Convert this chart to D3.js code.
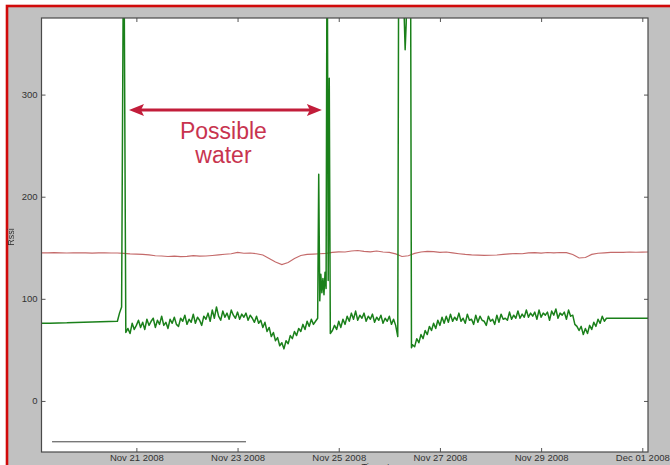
<!DOCTYPE html>
<html>
<head>
<meta charset="utf-8">
<script src="https://cdn.jsdelivr.net/npm/d3@7"></script>
<style>
  body { margin: 0; background: #fff; }
  svg { display: block; filter: blur(0.4px); }
  .axis text { font-family: "Liberation Sans", Arial, sans-serif; font-size: 9.5px; fill: #333; }
  .axis line { stroke: #555; }
</style>
</head>
<body>
<div id="viz"></div>
<script>
// size of the page and of the axes box
var width = 670;
var height = 465;
margin = ({top: 18, right: 22, bottom: 13, left: 41.5});

// all times are hours after Nov 19 2008 00:00
var baseDate = new Date(2008, 10, 19);
var firstHour = 3;
var lastHour = 290.7;

// x tick labels (dates) and y tick values
var xTickDays = ["2008-11-21", "2008-11-23", "2008-11-25", "2008-11-27", "2008-11-29", "2008-12-01"];
var yTicks = [0, 100, 200, 300];
var yMin = -50;
var yMax = 375;

// red series: one reading every 3 hours from hour 3
var redStart = 3;
var redStep = 3;
var redValues = [
  145, 145, 145.2, 145, 144.9, 145, 145.1, 145, 144.8, 145, 145, 144.9, 144.8,
  144.5, 144, 143.8, 143.5, 143, 142.2, 142, 141.5, 141.8, 141.3,
  141.6, 142.3, 141.8, 141.9, 142.5, 143, 143.6, 144.2, 145.5, 144.6,
  144.8, 144.2, 143, 139.5, 136, 133.5, 135.5, 139.5, 142.5, 143.5,
  143.8, 144.2, 144.5, 145.5, 146, 145.8, 146.8, 147.3, 146.5, 146,
  146.8, 145.8, 145.5, 144, 141.5, 142.2, 144.5, 145.8, 146.5, 146.2,
  145.5, 145.8, 145, 144.2, 143.5, 143, 142.8, 142.5, 142.7, 142.9,
  143.5, 144, 144.4, 144.2, 145, 145.2, 144.8, 145.3, 145, 145.4,
  145.2, 143.5, 140, 140.5, 143.5, 144.6, 145, 145.5, 145.6, 145.5,
  145.8, 145.6, 145.7, 145.8
];

// green series, in pieces with their own sampling step
var greenLead = [76, 76.2, 76.4, 76.5, 76.8, 77, 77.2, 77.5, 77.8, 78];          // from hour 3, every 4 h
var greenMain1 = [                                                                  // from hour 40, every 1 h
  86, 92, 500, 67,
  71, 66, 76, 70, 74, 79, 72, 77, 70, 80, 74, 78, 81, 72, 79, 75, 83, 74, 77, 71,
  80, 76, 82, 75, 73, 81, 78, 84, 75, 80, 77, 85, 76, 82, 79, 74, 83, 80, 86, 78,
  89, 81, 92, 83, 79, 88, 82, 86, 80, 89, 84, 81, 87, 80, 85, 82,
  86, 79, 84, 81, 77, 83, 76, 79, 72, 77, 68, 72, 63, 67, 59, 62, 54, 57, 51, 59,
  56, 64, 61, 68, 64, 71, 68, 75, 70, 78, 73, 80, 75, 78, 81
];
var greenSpike1 = [222, 98, 124, 106, 120, 104, 126, 110, 500, 118, 316, 66];       // from hour 134.5, every 0.5 h
var greenMain2 = [                                                                  // from hour 141, every 1 h
  69, 74, 70, 78, 72, 80, 75, 83, 78, 86, 80, 88, 79, 84, 81, 86, 78, 83, 80, 85,
  77, 82, 79, 84, 76, 81, 78, 83, 75, 80, 74, 63
];
var greenSpike2 = [500, 520, 480, 470, 420, 380, 344, 370, 450, 500, 520, 500, 52]; // from hour 172.5, every 0.5 h
var greenMain3 = [                                                                  // from hour 179, every 1 h
  55, 53, 61, 57, 65, 61, 69, 65, 73, 69, 76, 71, 79, 74, 82, 76, 83, 77, 85, 78,
  82, 79, 86, 78, 81, 76, 85, 79, 80, 75, 84, 77, 83, 79, 78, 74, 83, 78, 80, 75,
  84, 77, 85, 80, 81, 79, 87, 80, 84, 81, 88, 81, 85, 82, 89, 82, 86, 83, 87, 80,
  89, 82, 86, 84, 87, 79, 88, 84, 90, 81, 86, 84, 87, 80, 89, 83, 84, 75, 73, 69,
  73, 65, 71, 66, 74, 70, 77, 73, 80, 76, 83, 78
];
var greenTail = [81, 81];                                                           // from hour 271, every 20 h

var greenPieces = [
  {start: 3, step: 4, values: greenLead},
  {start: 40, step: 1, values: greenMain1},
  {start: 134.5, step: 0.5, values: greenSpike1},
  {start: 141, step: 1, values: greenMain2},
  {start: 172.5, step: 0.5, values: greenSpike2},
  {start: 179, step: 1, values: greenMain3},
  {start: 271, step: 20, values: greenTail}
];

// black line near the bottom
var blackHours = [8, 100];
var blackValues = [-40, -40];

// annotation: arrow between two hours at one value
var arrowHours = [44.5, 136];
var arrowValue = 285;
var noteLines = ["Possible", "water"];

function hourToDate(h)
{
  return new Date(baseDate.getTime() + h * 3600 * 1000);
}

// turns a piece into {date, value} points
function piecePoints(start, step, values)
{
  return values.map(function(v, i) {
    return {date: hourToDate(start + i * step), value: v};
  });
}

var redData = piecePoints(redStart, redStep, redValues);
var greenData = [];
greenPieces.forEach(function(p) {
  greenData = greenData.concat(piecePoints(p.start, p.step, p.values));
});
var blackData = blackHours.map(function(h, i) {
  return {date: hourToDate(h), value: blackValues[i]};
});

const svg = d3.select("#viz")
              .append("svg")
              .attr("width", width)
              .attr("height", height);

// white page, red frame, grey figure
svg.append("rect")
   .attr("x", 7)
   .attr("y", 6)
   .attr("width", width + 20)
   .attr("height", height + 20)
   .attr("fill", "#c1c1c1")
   .attr("stroke", "#d10a0a")
   .attr("stroke-width", 2.6);

var x = d3.scaleTime()
          .domain([hourToDate(firstHour), hourToDate(lastHour)])
          .range([margin.left, width - margin.right]);

var y = d3.scaleLinear()
          .domain([yMin, yMax])
          .range([height - margin.bottom, margin.top]);

var plotW = width - margin.right - margin.left;
var plotH = height - margin.bottom - margin.top;

svg.append("rect")
   .attr("x", margin.left)
   .attr("y", margin.top)
   .attr("width", plotW)
   .attr("height", plotH)
   .attr("fill", "#fff");

svg.append("clipPath")
   .attr("id", "plotClip")
   .append("rect")
   .attr("x", margin.left)
   .attr("y", margin.top)
   .attr("width", plotW)
   .attr("height", plotH);

var line = d3.line()
             .x(function(d) { return x(d.date); })
             .y(function(d) { return y(d.value); });

var lines = svg.append("g").attr("clip-path", "url(#plotClip)");

lines.append("path")
     .datum(redData)
     .attr("fill", "none")
     .attr("stroke", "#c46a6a")
     .attr("stroke-width", 1.1)
     .attr("d", line);

lines.append("path")
     .datum(greenData)
     .attr("fill", "none")
     .attr("stroke", "#1a801a")
     .attr("stroke-width", 1.5)
     .attr("stroke-linejoin", "round")
     .attr("d", line);

lines.append("path")
     .datum(blackData)
     .attr("fill", "none")
     .attr("stroke", "#444")
     .attr("stroke-width", 1)
     .attr("d", line);

// axes with inward ticks on all four sides
var xTickDates = xTickDays.map(function(s) { return d3.timeParse("%Y-%m-%d")(s); });
var fmt = d3.timeFormat("%b %d %Y");

svg.append("g")
   .attr("class", "axis")
   .attr("transform", "translate(0," + (height - margin.bottom) + ")")
   .call(d3.axisBottom(x).tickValues(xTickDates).tickFormat(fmt).tickSizeInner(-4).tickSizeOuter(0).tickPadding(2.5))
   .call(function(g) { g.select(".domain").remove(); });

svg.append("g")
   .attr("class", "axis")
   .attr("transform", "translate(0," + margin.top + ")")
   .call(d3.axisTop(x).tickValues(xTickDates).tickFormat("").tickSizeInner(-4).tickSizeOuter(0))
   .call(function(g) { g.select(".domain").remove(); });

svg.append("g")
   .attr("class", "axis")
   .attr("transform", "translate(" + margin.left + ",0)")
   .call(d3.axisLeft(y).tickValues(yTicks).tickSizeInner(-4).tickSizeOuter(0).tickPadding(4))
   .call(function(g) { g.select(".domain").remove(); });

svg.append("g")
   .attr("class", "axis")
   .attr("transform", "translate(" + (width - margin.right) + ",0)")
   .call(d3.axisRight(y).tickValues(yTicks).tickFormat("").tickSizeInner(-4).tickSizeOuter(0))
   .call(function(g) { g.select(".domain").remove(); });

// frame of the axes box
svg.append("rect")
   .attr("x", margin.left)
   .attr("y", margin.top)
   .attr("width", plotW)
   .attr("height", plotH)
   .attr("fill", "none")
   .attr("stroke", "#4a4a4a")
   .attr("stroke-width", 1.2);

// axis labels
svg.append("text")
   .attr("transform", "translate(14," + (margin.top + plotH / 2 + 2) + ") rotate(-90)")
   .attr("text-anchor", "middle")
   .style("font-family", "Liberation Sans, Arial, sans-serif")
   .style("font-size", "9px")
   .style("fill", "#333")
   .text("Rssi");

// x label sits mostly below the page edge, as in the source
svg.append("text")
   .attr("x", margin.left + plotW / 2 + 40)
   .attr("y", 470)
   .attr("text-anchor", "middle")
   .style("font-family", "Liberation Sans, Arial, sans-serif")
   .style("font-size", "9.5px")
   .style("fill", "#333")
   .text("Timestamp");

// red double arrow and note
var ax1 = x(hourToDate(arrowHours[0]));
var ax2 = x(hourToDate(arrowHours[1]));
var ay = y(arrowValue);
var arrowColor = "#c21d3a";

svg.append("line")
   .attr("x1", ax1 + 8)
   .attr("x2", ax2 - 8)
   .attr("y1", ay)
   .attr("y2", ay)
   .attr("stroke", arrowColor)
   .attr("stroke-width", 3);

svg.append("path")
   .attr("d", "M" + ax1 + "," + ay + " L" + (ax1 + 15) + "," + (ay - 6) + " L" + (ax1 + 12) + "," + ay + " L" + (ax1 + 15) + "," + (ay + 6) + "Z")
   .attr("fill", arrowColor);

svg.append("path")
   .attr("d", "M" + ax2 + "," + ay + " L" + (ax2 - 15) + "," + (ay - 6) + " L" + (ax2 - 12) + "," + ay + " L" + (ax2 - 15) + "," + (ay + 6) + "Z")
   .attr("fill", arrowColor);

svg.selectAll(".note")
   .data(noteLines)
   .enter()
   .append("text")
   .attr("class", "note")
   .attr("x", (ax1 + ax2) / 2 - 2)
   .attr("y", function(d, i) { return ay + 29 + i * 24; })
   .attr("text-anchor", "middle")
   .style("font-family", "Liberation Sans, Arial, sans-serif")
   .style("font-size", "23px")
   .style("fill", "#c8344f")
   .text(function(d) { return d; });

//end of file
</script>
</body>
</html>
